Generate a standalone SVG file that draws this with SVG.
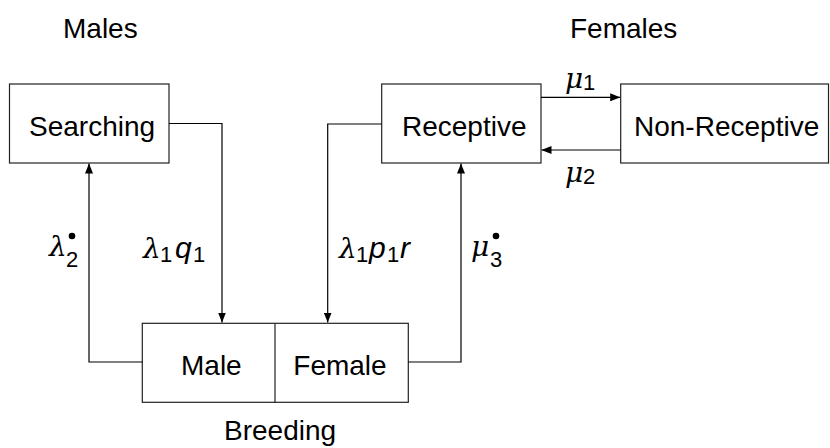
<svg xmlns="http://www.w3.org/2000/svg" width="830" height="448" viewBox="0 0 830 448">
<style>
.box{fill:#fff;stroke:#222;stroke-width:1.2}
.lbl{font-family:"Liberation Sans",Arial,sans-serif;font-size:28px;fill:#000}
.edge{fill:none;stroke:#000;stroke-width:1.2}
.gr{font-family:"DejaVu Serif","Liberation Serif",serif;font-style:italic;font-size:28px;fill:#000}
.it{font-family:"Liberation Sans",Arial,sans-serif;font-style:italic;font-size:30px;fill:#000}
.sub{font-family:"Liberation Sans",Arial,sans-serif;font-style:normal;font-size:22px;fill:#000}
</style>
<defs>
<marker id="ah" viewBox="0 0 10 8" refX="10" refY="4" markerWidth="10" markerHeight="8" markerUnits="userSpaceOnUse" orient="auto">
<path d="M0,0 L10,4 L0,8 Z" fill="#000"/>
</marker>
</defs>
<text class="lbl" x="63" y="38">Males</text>
<text class="lbl" x="570" y="38">Females</text>
<g id="searching">
<rect class="box" x="9.5" y="84" width="159.5" height="79"/>
<text class="lbl" x="29" y="136">Searching</text>
</g>
<g id="receptive">
<rect class="box" x="381.7" y="84" width="159.3" height="79"/>
<text class="lbl" x="402" y="136">Receptive</text>
</g>
<g id="nonreceptive">
<rect class="box" x="620.7" y="84" width="207.8" height="79"/>
<text class="lbl" x="634" y="136">Non-Receptive</text>
</g>
<g id="breeding">
<rect class="box" x="142.3" y="323.3" width="266" height="79"/>
<line class="box" x1="275" y1="323.3" x2="275" y2="402.3"/>
<text class="lbl" x="181" y="375">Male</text>
<text class="lbl" x="293.3" y="375">Female</text>
<text class="lbl" x="224" y="440">Breeding</text>
</g>
<g id="connectors">
<path class="edge" d="M169,123.5 H222 V322.5" marker-end="url(#ah)"/>
<path class="edge" d="M142.3,362 H89 V163.5" marker-end="url(#ah)"/>
<path class="edge" d="M381.7,124 H327.7 V322.5" marker-end="url(#ah)"/>
<path class="edge" d="M408.3,362 H461 V163.5" marker-end="url(#ah)"/>
<path class="edge" d="M541,97.3 H620.2" marker-end="url(#ah)"/>
<path class="edge" d="M620.7,150 H541.5" marker-end="url(#ah)"/>
</g>
<g id="labels">
<text class="gr" x="565" y="88">μ</text>
<text class="sub" x="583" y="90">1</text>
<text class="gr" x="565" y="182">μ</text>
<text class="sub" x="583" y="184">2</text>
<text class="gr" x="49" y="256">λ</text>
<text class="sub" x="66" y="267">2</text>
<circle cx="72" cy="236" r="3.3" fill="#000"/>
<text class="gr" x="143" y="258">λ</text>
<text class="sub" x="160" y="262">1</text>
<text class="it" x="175" y="258">q</text>
<text class="sub" x="193" y="262">1</text>
<text class="gr" x="339" y="258">λ</text>
<text class="sub" x="356" y="262">1</text>
<text class="it" x="369" y="258">p</text>
<text class="sub" x="387" y="262">1</text>
<text class="it" x="400" y="258">r</text>
<text class="gr" x="471" y="256">μ</text>
<text class="sub" x="490" y="267">3</text>
<circle cx="496" cy="236" r="3.3" fill="#000"/>
</g>
</svg>
